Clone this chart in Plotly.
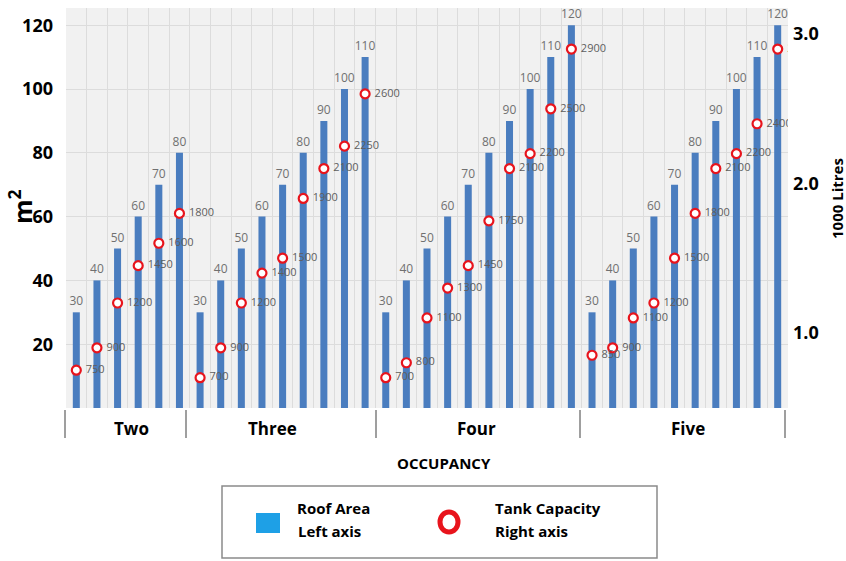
import plotly.graph_objects as go

# ---------------- data ----------------
groups = ["Two", "Three", "Four", "Five"]
roof_two = [30, 40, 50, 60, 70, 80]
roof_three = [30, 40, 50, 60, 70, 80, 90, 100, 110]
roof_four = [30, 40, 50, 60, 70, 80, 90, 100, 110, 120]
roof_five = [30, 40, 50, 60, 70, 80, 90, 100, 110, 120]
tank_two = [750, 900, 1200, 1450, 1600, 1800]
tank_three = [700, 900, 1200, 1400, 1500, 1900, 2100, 2250, 2600]
tank_four = [700, 800, 1100, 1300, 1450, 1750, 2100, 2200, 2500, 2900]
tank_five = [850, 900, 1100, 1200, 1500, 1800, 2100, 2200, 2400, 2900]
left_ticks = [20, 40, 60, 80, 100, 120]
right_ticks = [1.0, 2.0, 3.0]
right_tick_text = ["1.0", "2.0", "3.0"]

roof = roof_two + roof_three + roof_four + roof_five
tank = tank_two + tank_three + tank_four + tank_five
xs = list(range(len(roof)))

W, H = 846, 561
L, R, T, B = 66, 788, 8, 408  # plot area in px


def px(x):
    return (x - L) / (R - L)


def py(y):
    return (B - y) / (B - T)


BAR = "#4a7dbf"
GREY = "#707070"
TGREY = "#5e5e5e"
RED = "#e8141c"
FONT = "Open Sans"

fig = go.Figure()
fig.add_trace(go.Bar(
    x=xs, y=roof, marker=dict(color=BAR, line=dict(width=0)),
    text=[str(v) for v in roof], textposition="outside", constraintext="none",
    textfont=dict(size=12, color=GREY, family=FONT),
    cliponaxis=False, showlegend=False, hoverinfo="skip",
))
fig.add_trace(go.Scatter(
    x=xs, y=[t / 1000 for t in tank], yaxis="y2", mode="markers+text",
    marker=dict(symbol="circle", size=9, color="white", line=dict(color=RED, width=2.2)),
    text=[" " + str(v) for v in tank], textposition="middle right",
    textfont=dict(size=11, color=TGREY, family=FONT),
    cliponaxis=True, showlegend=False, hoverinfo="skip",
))

n = len(roof)
fig.update_layout(
    width=W, height=H,
    margin=dict(l=L, r=W - R, t=T, b=H - B),
    paper_bgcolor="white", plot_bgcolor="#f1f1f1",
    bargap=0.66,
    font=dict(family=FONT, color="black"),
    xaxis=dict(range=[-0.5, n - 0.5], tickvals=[i - 0.5 for i in range(n + 1)],
               showticklabels=False, showgrid=True, gridcolor="#dcdcdc",
               gridwidth=1, zeroline=False, showline=False, ticks=""),
    yaxis=dict(range=[0, 125.4], tickvals=left_ticks, showgrid=True, gridcolor="#dcdcdc",
               zeroline=False, showline=False, ticks="", ticklabelstandoff=12,
               tickfont=dict(size=18, weight="bold", color="black", family=FONT)),
    yaxis2=dict(range=[0.497, 3.175], overlaying="y", side="right", tickvals=right_ticks,
                ticktext=right_tick_text, showgrid=False, zeroline=False, ticks="",
                ticklabelstandoff=4,
                tickfont=dict(size=18, weight="bold", color="black", family=FONT)),
)

shapes = []
# group separators
for sx in [65, 186, 376, 580, 785]:
    shapes.append(dict(type="line", xref="paper", yref="paper", x0=px(sx), x1=px(sx),
                       y0=py(410), y1=py(438), line=dict(color="#7f7f7f", width=1.5)))
# legend box
shapes.append(dict(type="rect", xref="paper", yref="paper", x0=px(222), x1=px(657),
                   y0=py(486), y1=py(558), line=dict(color="#8a8a8a", width=1.5),
                   fillcolor="white"))
shapes.append(dict(type="rect", xref="paper", yref="paper", x0=px(256), x1=px(280),
                   y0=py(513), y1=py(533), line=dict(width=0), fillcolor="#1ea0e6"))
shapes.append(dict(type="circle", xref="paper", yref="paper", x0=px(440), x1=px(458),
                   y0=py(512), y1=py(532), line=dict(color=RED, width=5), fillcolor="white"))

ann = []


def add_text(txt, x, y, size, xanchor="center", angle=0):
    ann.append(dict(text=txt, x=px(x), y=py(y), xref="paper", yref="paper",
                    xanchor=xanchor, yanchor="middle", showarrow=False, textangle=angle,
                    font=dict(size=size, weight="bold", family=FONT, color="black")))


group_x = [131, 272, 476, 688]
for g, gx in zip(groups, group_x):
    add_text(g, gx, 428, 17)
add_text("OCCUPANCY", 444, 463, 15)
add_text("m<sup>2</sup>", 20, 207, 25, angle=-90)
add_text("1000 Litres", 837, 198, 15, angle=-90)
for txt, lx, ly in [("Roof Area", 295, 508), ("Left axis", 296, 531),
                    ("Tank Capacity", 493, 508), ("Right axis", 493, 531)]:
    add_text(txt, lx, ly, 15, xanchor="left")

fig.update_layout(shapes=shapes, annotations=ann)
fig.write_html("out.html", config={"displayModeBar": False},
               post_script="document.body.style.margin='0';")
